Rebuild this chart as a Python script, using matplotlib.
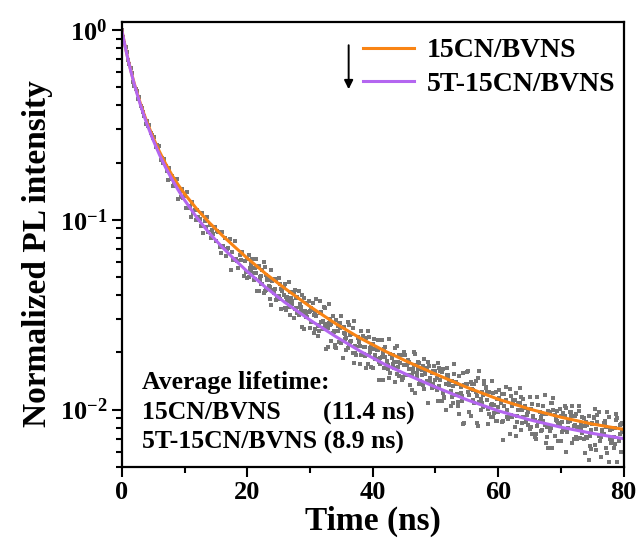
import numpy as np
import matplotlib
matplotlib.use("Agg")
import matplotlib.pyplot as plt
from matplotlib.ticker import FixedLocator, FuncFormatter, MultipleLocator

plt.rcParams['font.family'] = ['Liberation Serif', 'DejaVu Serif']
plt.rcParams['font.weight'] = 'bold'
plt.rcParams['mathtext.fontset'] = 'custom'
plt.rcParams['mathtext.rm'] = 'Liberation Serif:bold'
plt.rcParams['mathtext.bf'] = 'Liberation Serif:bold'

# fitted decay curves
fit_t = [0, 0.5, 1, 1.5, 2, 2.5, 3, 3.5, 4, 5, 6, 7, 8, 9, 10, 12, 14, 16, 18,
         20, 23, 26, 30, 34, 38, 42, 46, 50, 55, 60, 65, 70, 75, 80]
fit_15cn = [1.0, 0.83, 0.70, 0.600, 0.521, 0.459, 0.407, 0.364, 0.328, 0.271,
            0.229, 0.197, 0.172, 0.1526, 0.1371, 0.1135, 0.0962, 0.0828, 0.0720,
            0.0628, 0.0518, 0.0435, 0.0349, 0.0285, 0.0238, 0.0203, 0.0176,
            0.01539, 0.0131, 0.01135, 0.01007, 0.00912, 0.0084, 0.00787]
fit_5t = [1.0, 0.827, 0.697, 0.596, 0.516, 0.453, 0.400, 0.357, 0.320, 0.263,
          0.2203, 0.1881, 0.1633, 0.1433, 0.127, 0.1023, 0.0847, 0.0718, 0.0617,
          0.0534, 0.0439, 0.0367, 0.02966, 0.02438, 0.02032, 0.01726, 0.0150,
          0.01315, 0.01127, 0.00986, 0.00884, 0.00808, 0.0075, 0.00703]

# raw TCSPC counts (gray points)
raw_t_a = np.linspace(0, 80, 201)
raw_15cn = [
    1.000, 0.855, 0.767, 0.663, 0.596, 0.506, 0.477, 0.444, 0.387, 0.352,
    0.331, 0.315, 0.280, 0.273, 0.249, 0.245, 0.212, 0.208, 0.180, 0.188,
    0.171, 0.159, 0.165, 0.142, 0.145, 0.134, 0.140, 0.118, 0.124, 0.113,
    0.112, 0.101, 0.109, 0.098, 0.104, 0.094, 0.0879, 0.0912, 0.0873, 0.0716,
    0.0861, 0.0801, 0.0703, 0.0790, 0.0680, 0.0771, 0.0604, 0.0651, 0.0675, 0.0608,
    0.0621, 0.0557, 0.0625, 0.0557, 0.0566, 0.0478, 0.0546, 0.0565, 0.0481, 0.0443,
    0.0474, 0.0489, 0.0393, 0.0460, 0.0422, 0.0458, 0.0392, 0.0419, 0.0359, 0.0425,
    0.0390, 0.0361, 0.0402, 0.0331, 0.0364, 0.0332, 0.0363, 0.0325, 0.0275, 0.0372,
    0.0292, 0.0341, 0.0269, 0.0301, 0.0310, 0.0220, 0.0277, 0.0285, 0.0231, 0.0250,
    0.0291, 0.0228, 0.0270, 0.0198, 0.0239, 0.0217, 0.0243, 0.0191, 0.0258, 0.0210,
    0.0221, 0.0185, 0.0233, 0.0188, 0.0198, 0.0215, 0.0163, 0.0197, 0.0173, 0.0210,
    0.0179, 0.0194, 0.0146, 0.0193, 0.0176, 0.0152, 0.0163, 0.0196, 0.0179, 0.0141,
    0.0170, 0.0158, 0.0178, 0.0143, 0.0159, 0.0159, 0.0175, 0.0160, 0.0163, 0.0137,
    0.0146, 0.0105, 0.0133, 0.0120, 0.0104, 0.0131, 0.0155, 0.0137, 0.0160, 0.0139,
    0.0127, 0.0141, 0.0146, 0.0099, 0.0119, 0.0131, 0.0101, 0.0106, 0.0091, 0.0124,
    0.0097, 0.0108, 0.0087, 0.0132, 0.0089, 0.0118, 0.0113, 0.0122, 0.0109, 0.0117,
    0.0092, 0.0086, 0.0097, 0.0081, 0.0091, 0.0074, 0.0086, 0.0092, 0.0104, 0.0067,
    0.0098, 0.0109, 0.0115, 0.0089, 0.0085, 0.0093, 0.0078, 0.0102, 0.0086, 0.0093,
    0.0070, 0.0095, 0.0105, 0.0080, 0.0070, 0.0086, 0.0093, 0.0062, 0.0090, 0.0079,
    0.0097, 0.0072, 0.0085, 0.0063, 0.0092, 0.0080, 0.0072, 0.0095, 0.0068, 0.0084,
    0.0077]
raw_t_a2 = np.linspace(20.2, 79.8, 150)
raw_15cn_2 = [
    0.0653, 0.0588, 0.0525, 0.0620, 0.0569, 0.0506, 0.0598, 0.0513, 0.0479, 0.0543,
    0.0418, 0.0489, 0.0494, 0.0434, 0.0444, 0.0392, 0.0470, 0.0386, 0.0414, 0.0387,
    0.0421, 0.0346, 0.0386, 0.0319, 0.0375, 0.0345, 0.0316, 0.0384, 0.0279, 0.0327,
    0.0349, 0.0282, 0.0362, 0.0283, 0.0258, 0.0298, 0.0227, 0.0312, 0.0271, 0.0239,
    0.0279, 0.0251, 0.0292, 0.0213, 0.0228, 0.0261, 0.0196, 0.0238, 0.0240, 0.0215,
    0.0235, 0.0206, 0.0178, 0.0232, 0.0209, 0.0180, 0.0235, 0.0193, 0.0178, 0.0217,
    0.0151, 0.0195, 0.0201, 0.0171, 0.0179, 0.0152, 0.0202, 0.0155, 0.0175, 0.0162,
    0.0185, 0.0142, 0.0169, 0.0130, 0.0169, 0.0147, 0.0165, 0.0157, 0.0115, 0.0166,
    0.0134, 0.0116, 0.0173, 0.0136, 0.0151, 0.0118, 0.0135, 0.0157, 0.0097, 0.0137,
    0.0109, 0.0118, 0.0160, 0.0109, 0.0141, 0.0124, 0.0095, 0.0142, 0.0106, 0.0114,
    0.0127, 0.0086, 0.0121, 0.0092, 0.0129, 0.0104, 0.0113, 0.0093, 0.0130, 0.0085,
    0.0105, 0.0095, 0.0116, 0.0107, 0.0072, 0.0117, 0.0087, 0.0095, 0.0120, 0.0081,
    0.0097, 0.0109, 0.0073, 0.0087, 0.0101, 0.0086, 0.0105, 0.0076, 0.0087, 0.0105,
    0.0093, 0.0081, 0.0071, 0.0075, 0.0082, 0.0071, 0.0064, 0.0084, 0.0101, 0.0086,
    0.0073, 0.0078, 0.0087, 0.0097, 0.0070, 0.0079, 0.0066, 0.0090, 0.0083, 0.0076]
raw_t_b = np.linspace(0.2, 79.8, 200)
raw_5t = [
    0.921, 0.816, 0.698, 0.634, 0.531, 0.487, 0.431, 0.399, 0.371, 0.321,
    0.311, 0.285, 0.271, 0.241, 0.235, 0.207, 0.198, 0.192, 0.163, 0.165,
    0.151, 0.150, 0.128, 0.132, 0.131, 0.115, 0.116, 0.104, 0.109, 0.100,
    0.104, 0.0925, 0.0857, 0.0912, 0.0861, 0.0804, 0.0838, 0.0769, 0.0859, 0.0666,
    0.0724, 0.0641, 0.0709, 0.0545, 0.0616, 0.0625, 0.0559, 0.0611, 0.0506, 0.0531,
    0.0498, 0.0538, 0.0483, 0.0524, 0.0421, 0.0457, 0.0411, 0.0428, 0.0450, 0.0355,
    0.0410, 0.0376, 0.0398, 0.0340, 0.0403, 0.0336, 0.0347, 0.0370, 0.0305, 0.0345,
    0.0317, 0.0332, 0.0265, 0.0306, 0.0325, 0.0290, 0.0254, 0.0313, 0.0261, 0.0290,
    0.0268, 0.0209, 0.0287, 0.0231, 0.0255, 0.0210, 0.0283, 0.0225, 0.0252, 0.0205,
    0.0221, 0.0230, 0.0176, 0.0194, 0.0235, 0.0195, 0.0214, 0.0165, 0.0194, 0.0168,
    0.0208, 0.0185, 0.0143, 0.0190, 0.0166, 0.0180, 0.0146, 0.0187, 0.0166, 0.0154,
    0.0193, 0.0144, 0.0172, 0.0153, 0.0164, 0.0127, 0.0171, 0.0151, 0.0136, 0.0152,
    0.0128, 0.0166, 0.0140, 0.0155, 0.0132, 0.0127, 0.0133, 0.0111, 0.0117, 0.0153,
    0.0140, 0.0142, 0.0154, 0.0121, 0.0095, 0.0111, 0.0085, 0.0137, 0.0120, 0.0128,
    0.0136, 0.0085, 0.0110, 0.0124, 0.0136, 0.0112, 0.0124, 0.0107, 0.0096, 0.0087,
    0.0115, 0.0121, 0.0104, 0.0099, 0.0074, 0.0092, 0.0081, 0.0086, 0.0109, 0.0099,
    0.0102, 0.0094, 0.0079, 0.0074, 0.0088, 0.0082, 0.0097, 0.0078, 0.0083, 0.0072,
    0.0077, 0.0063, 0.0094, 0.0098, 0.0082, 0.0076, 0.0093, 0.0079, 0.0097, 0.0067,
    0.0083, 0.0070, 0.0079, 0.0091, 0.0059, 0.0083, 0.0073, 0.0085, 0.0065, 0.0094,
    0.0068, 0.0074, 0.0085, 0.0059, 0.0078, 0.0069, 0.0080, 0.0053, 0.0074, 0.0085]
raw_t_b2 = np.linspace(20.0, 79.6, 150)
raw_5t_2 = [
    0.0491, 0.0539, 0.0557, 0.0485, 0.0420, 0.0499, 0.0461, 0.0421, 0.0485, 0.0382,
    0.0425, 0.0433, 0.0381, 0.0382, 0.0427, 0.0341, 0.0375, 0.0314, 0.0375, 0.0337,
    0.0321, 0.0349, 0.0271, 0.0326, 0.0308, 0.0270, 0.0336, 0.0266, 0.0244, 0.0324,
    0.0266, 0.0278, 0.0215, 0.0280, 0.0252, 0.0215, 0.0259, 0.0269, 0.0186, 0.0236,
    0.0211, 0.0247, 0.0198, 0.0216, 0.0242, 0.0174, 0.0195, 0.0215, 0.0173, 0.0202,
    0.0165, 0.0194, 0.0207, 0.0173, 0.0143, 0.0189, 0.0172, 0.0155, 0.0193, 0.0140,
    0.0167, 0.0176, 0.0148, 0.0152, 0.0182, 0.0134, 0.0158, 0.0123, 0.0163, 0.0142,
    0.0135, 0.0154, 0.0109, 0.0146, 0.0136, 0.0144, 0.0111, 0.0144, 0.0122, 0.0100,
    0.0153, 0.0126, 0.0108, 0.0140, 0.0110, 0.0122, 0.0084, 0.0135, 0.0124, 0.0093,
    0.0112, 0.0124, 0.0082, 0.0114, 0.0103, 0.0130, 0.0084, 0.0092, 0.0122, 0.0087,
    0.0103, 0.0109, 0.0069, 0.0112, 0.0090, 0.0094, 0.0111, 0.0073, 0.0100, 0.0078,
    0.0114, 0.0088, 0.0083, 0.0101, 0.0093, 0.0070, 0.0106, 0.0077, 0.0087, 0.0095,
    0.0063, 0.0080, 0.0099, 0.0088, 0.0068, 0.0068, 0.0096, 0.0060, 0.0080, 0.0097,
    0.0082, 0.0072, 0.0098, 0.0084, 0.0090, 0.0072, 0.0054, 0.0078, 0.0091, 0.0061,
    0.0073, 0.0056, 0.0074, 0.0081, 0.0053, 0.0067, 0.0063, 0.0088, 0.0068, 0.0060]

labels = ['15CN/BVNS', '5T-15CN/BVNS']
colors = ['#F98414', '#B466F0']

fig = plt.figure(figsize=(6.41, 5.39), dpi=100)
ax = fig.add_axes([0.190, 0.134, 0.783, 0.825])

for tt, yy in [(raw_t_a, raw_15cn), (raw_t_a2, raw_15cn_2),
               (raw_t_b, raw_5t), (raw_t_b2, raw_5t_2)]:
    ax.plot(tt, yy, ls='none', marker='s', ms=2.6, mew=0, color='#777777')
ax.plot(fit_t, fit_15cn, color=colors[0], lw=2.2, label=labels[0])
ax.plot(fit_t, fit_5t, color=colors[1], lw=2.2, label=labels[1])

ax.set_yscale('log')
ax.set_xlim(0, 80)
ax.set_ylim(0.005, 1.1)

ax.xaxis.set_major_locator(MultipleLocator(20))
ax.xaxis.set_minor_locator(MultipleLocator(10))
ax.yaxis.set_major_locator(FixedLocator([0.01, 0.1, 1]))
ax.yaxis.set_major_formatter(FuncFormatter(
    lambda v, p: r'$\mathbf{10^{%d}}$' % int(round(np.log10(v)))))

ax.tick_params(which='both', direction='out', top=False, right=False,
               width=1.5, labelsize=19)
ax.tick_params(which='major', length=7)
ax.tick_params(which='minor', length=4)
for s in ax.spines.values():
    s.set_linewidth(1.6)

ax.set_xlabel('Time (ns)', fontsize=24, fontweight='bold', labelpad=1)
ax.set_ylabel('Normalized PL intensity', fontsize=24, fontweight='bold')
ax.yaxis.set_label_coords(-0.137, 0.48)

leg = ax.legend(loc='upper right', bbox_to_anchor=(1.02, 1.005), frameon=False,
                fontsize=20, handlelength=1.85, handletextpad=0.47,
                labelspacing=0.3, borderaxespad=0.25)

ax.annotate('', xy=(0.452, 0.849), xytext=(0.452, 0.948), xycoords='axes fraction',
            arrowprops=dict(arrowstyle='-|>', color='black', lw=1.4,
                            mutation_scale=13, shrinkA=0, shrinkB=0))

ax.text(0.04, 0.189, 'Average lifetime:', transform=ax.transAxes,
        fontsize=18.5, fontweight='bold', va='center')
ax.text(0.04, 0.121, '15CN/BVNS', transform=ax.transAxes,
        fontsize=18.5, fontweight='bold', va='center')
ax.text(0.40, 0.121, '(11.4 ns)', transform=ax.transAxes,
        fontsize=18.5, fontweight='bold', va='center')
ax.text(0.04, 0.054, '5T-15CN/BVNS (8.9 ns)', transform=ax.transAxes,
        fontsize=18.5, fontweight='bold', va='center')

fig.savefig('out.png', dpi=100)
